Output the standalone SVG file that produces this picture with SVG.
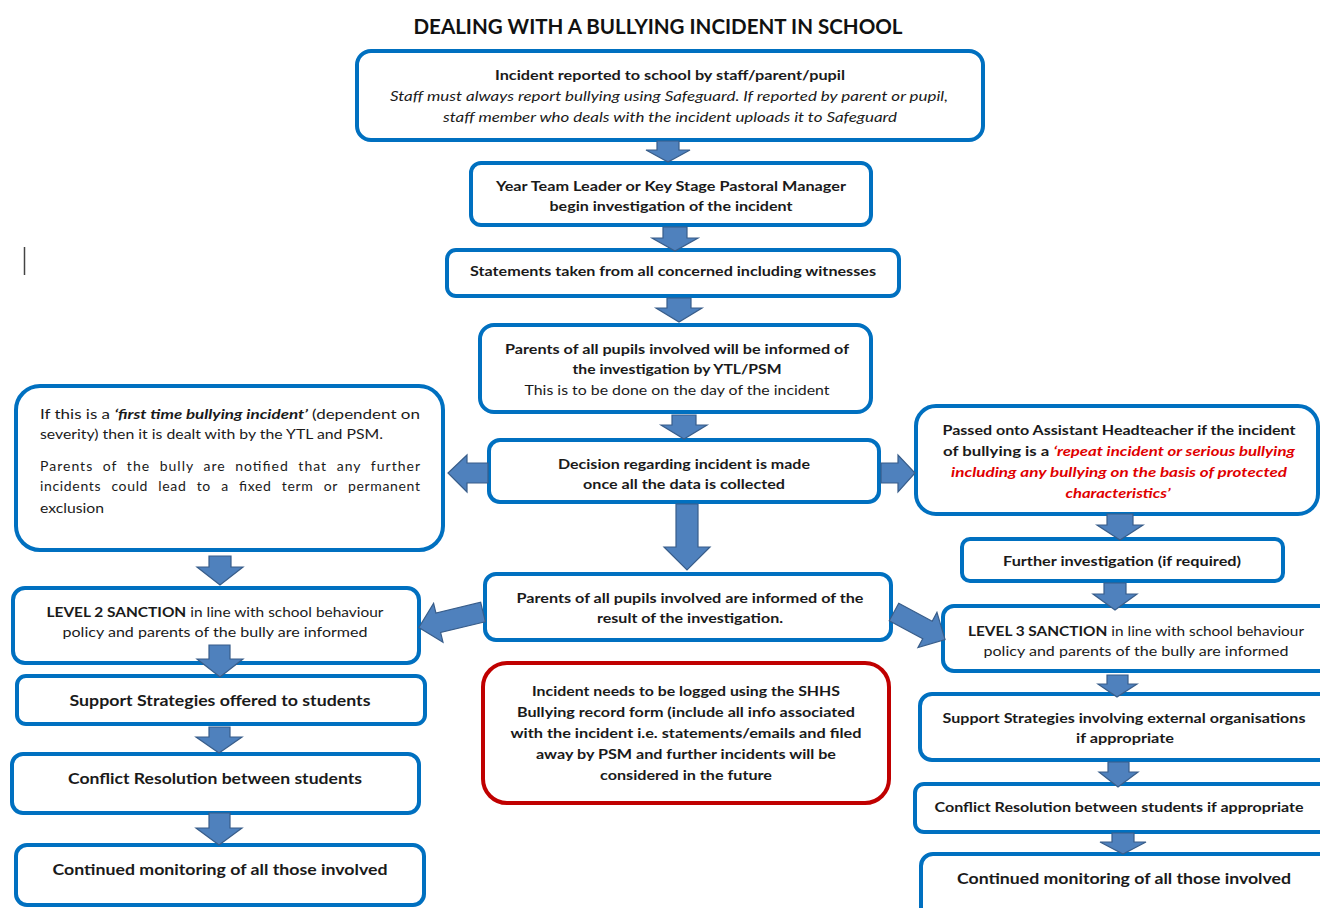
<svg xmlns="http://www.w3.org/2000/svg" width="1320" height="908" viewBox="0 0 1320 908">
<style>
.box{fill:#fff;stroke:#0070C0;stroke-width:4}
.rbox{fill:#fff;stroke:#C00000;stroke-width:4}
.arr{fill:#4F81BD;stroke:#385D8A;stroke-width:1.2;stroke-linejoin:miter}
text{font-family:Lato,"Liberation Sans",Arial,sans-serif;fill:#1a1a1a;font-size:14px}
.b{font-weight:bold}
.c{text-anchor:middle}
.i{font-style:italic}
.big{font-size:16px;font-weight:bold}
.red{fill:#E00000;font-weight:bold;font-style:italic}
.title{font-size:20px;font-weight:bold;text-anchor:middle;fill:#111}
.just{word-spacing:5px}
</style>
<rect width="1320" height="908" fill="#fff"/>
<text class="title" x="658" y="34" textLength="489" lengthAdjust="spacingAndGlyphs">DEALING WITH A BULLYING INCIDENT IN SCHOOL</text>
<line x1="24.5" y1="247" x2="24.5" y2="275" stroke="#444" stroke-width="1.5"/>

<g id="n1">
  <rect class="box" x="357" y="51" width="626" height="89" rx="14"/>
  <text class="b c" x="670" y="80" textLength="350" lengthAdjust="spacingAndGlyphs">Incident reported to school by staff/parent/pupil</text>
  <text class="i c" x="669" y="101" textLength="558" lengthAdjust="spacingAndGlyphs">Staff must always report bullying using Safeguard. If reported by parent or pupil,</text>
  <text class="i c" x="670" y="122" textLength="454" lengthAdjust="spacingAndGlyphs">staff member who deals with the incident uploads it to Safeguard</text>
</g>
<g id="n2">
  <rect class="box" x="471" y="163" width="400" height="62" rx="10"/>
  <text class="b c" x="671" y="191" textLength="350" lengthAdjust="spacingAndGlyphs">Year Team Leader or Key Stage Pastoral Manager</text>
  <text class="b c" x="671" y="211" textLength="243" lengthAdjust="spacingAndGlyphs">begin investigation of the incident</text>
</g>
<g id="n3">
  <rect class="box" x="447" y="250" width="452" height="46" rx="9"/>
  <text class="b c" x="673" y="276" textLength="406" lengthAdjust="spacingAndGlyphs">Statements taken from all concerned including witnesses</text>
</g>
<g id="n4">
  <rect class="box" x="480" y="325" width="391" height="87" rx="14"/>
  <text class="b c" x="677" y="354" textLength="344" lengthAdjust="spacingAndGlyphs">Parents of all pupils involved will be informed of</text>
  <text class="b c" x="677" y="374" textLength="209" lengthAdjust="spacingAndGlyphs">the investigation by YTL/PSM</text>
  <text class="c" x="677" y="395" textLength="305" lengthAdjust="spacingAndGlyphs">This is to be done on the day of the incident</text>
</g>
<g id="n5">
  <rect class="box" x="489" y="440" width="390" height="62" rx="11"/>
  <text class="b c" x="684" y="469" textLength="252" lengthAdjust="spacingAndGlyphs">Decision regarding incident is made</text>
  <text class="b c" x="684" y="489" textLength="202" lengthAdjust="spacingAndGlyphs">once all the data is collected</text>
</g>
<g id="n6">
  <rect class="box" x="16" y="386" width="427" height="164" rx="24"/>
  <text x="40" y="419" textLength="380" lengthAdjust="spacingAndGlyphs">If this is a <tspan class="b i">‘first time bullying incident’</tspan> (dependent on</text>
  <text x="40" y="439" textLength="343" lengthAdjust="spacingAndGlyphs">severity) then it is dealt with by the YTL and PSM.</text>
  <text class="just" x="40" y="471" textLength="380" lengthAdjust="spacing">Parents of the bully are notified that any further</text>
  <text class="just" x="40" y="491" textLength="380" lengthAdjust="spacing" style="word-spacing:6px">incidents could lead to a fixed term or permanent</text>
  <text x="40" y="513" textLength="64" lengthAdjust="spacingAndGlyphs">exclusion</text>
</g>
<g id="n7">
  <rect class="box" x="916" y="406" width="402" height="108" rx="20"/>
  <text class="b c" x="1119" y="435" textLength="353" lengthAdjust="spacingAndGlyphs">Passed onto Assistant Headteacher if the incident</text>
  <text class="b c" x="1119" y="456" textLength="352" lengthAdjust="spacingAndGlyphs">of bullying is a <tspan class="red">‘repeat incident or serious bullying</tspan></text>
  <text class="red c" x="1119" y="477" textLength="336" lengthAdjust="spacingAndGlyphs">including any bullying on the basis of protected</text>
  <text class="red c" x="1118" y="498" textLength="105" lengthAdjust="spacingAndGlyphs">characteristics’</text>
</g>
<g id="n8">
  <rect class="box" x="962" y="539" width="321" height="42" rx="8"/>
  <text class="b c" x="1122" y="566" textLength="238" lengthAdjust="spacingAndGlyphs">Further investigation (if required)</text>
</g>
<g id="n9">
  <rect class="box" x="485" y="574" width="406" height="66" rx="11"/>
  <text class="b c" x="690" y="603" textLength="347" lengthAdjust="spacingAndGlyphs">Parents of all pupils involved are informed of the</text>
  <text class="b c" x="690" y="623" textLength="186" lengthAdjust="spacingAndGlyphs">result of the investigation.</text>
</g>
<g id="n10">
  <rect class="box" x="13" y="588" width="406" height="75" rx="12"/>
  <text class="c" x="215" y="617" textLength="337" lengthAdjust="spacingAndGlyphs"><tspan class="b">LEVEL 2 SANCTION</tspan> in line with school behaviour</text>
  <text class="c" x="215" y="637" textLength="305" lengthAdjust="spacingAndGlyphs">policy and parents of the bully are informed</text>
</g>
<g id="n11">
  <rect class="box" x="17" y="676" width="408" height="48" rx="9"/>
  <text class="big c" x="220" y="706" textLength="301" lengthAdjust="spacingAndGlyphs">Support Strategies offered to students</text>
</g>
<g id="n12">
  <rect class="box" x="12" y="754" width="407" height="59" rx="11"/>
  <text class="big c" x="215" y="784" textLength="294" lengthAdjust="spacingAndGlyphs">Conflict Resolution between students</text>
</g>
<g id="n13">
  <rect class="box" x="16" y="845" width="408" height="60" rx="11"/>
  <text class="big c" x="220" y="875" textLength="335" lengthAdjust="spacingAndGlyphs">Continued monitoring of all those involved</text>
</g>
<g id="n14">
  <rect class="box" x="943" y="606" width="392" height="65" rx="11"/>
  <text class="c" x="1136" y="636" textLength="336" lengthAdjust="spacingAndGlyphs"><tspan class="b">LEVEL 3 SANCTION</tspan> in line with school behaviour</text>
  <text class="c" x="1136" y="656" textLength="305" lengthAdjust="spacingAndGlyphs">policy and parents of the bully are informed</text>
</g>
<g id="n15">
  <rect class="box" x="920" y="694" width="415" height="66" rx="12"/>
  <text class="b c" x="1124" y="723" textLength="363" lengthAdjust="spacingAndGlyphs">Support Strategies involving external organisations</text>
  <text class="b c" x="1125" y="743" textLength="98" lengthAdjust="spacingAndGlyphs">if appropriate</text>
</g>
<g id="n16">
  <rect class="box" x="915" y="784" width="420" height="48" rx="9"/>
  <text class="b c" x="1119" y="812" textLength="369" lengthAdjust="spacingAndGlyphs">Conflict Resolution between students if appropriate</text>
</g>
<g id="n17">
  <rect class="box" x="921" y="854" width="414" height="70" rx="12"/>
  <text class="big c" x="1124" y="884" textLength="334" lengthAdjust="spacingAndGlyphs">Continued monitoring of all those involved</text>
</g>
<g id="n18">
  <rect class="rbox" x="483" y="663" width="406" height="140" rx="24"/>
  <text class="b c" x="686" y="696" textLength="308" lengthAdjust="spacingAndGlyphs">Incident needs to be logged using the SHHS</text>
  <text class="b c" x="686" y="717" textLength="338" lengthAdjust="spacingAndGlyphs">Bullying record form (include all info associated</text>
  <text class="b c" x="686" y="738" textLength="351" lengthAdjust="spacingAndGlyphs">with the incident i.e. statements/emails and filed</text>
  <text class="b c" x="686" y="759" textLength="300" lengthAdjust="spacingAndGlyphs">away by PSM and further incidents will be</text>
  <text class="b c" x="686" y="780" textLength="172" lengthAdjust="spacingAndGlyphs">considered in the future</text>
</g>

<g id="connectors">
  <path class="arr" d="M657,141 H679 V150 H690 L668,162 L646,150 H657 Z"/>
  <path class="arr" d="M663,227 H687 V238 H698 L675,251 L652,238 H663 Z"/>
  <path class="arr" d="M667,298 H691 V308 H702 L679,322 L656,308 H667 Z"/>
  <path class="arr" d="M672,415 H696 V425 H707 L684,439 L661,425 H672 Z"/>
  <path class="arr" d="M676,504 H698 V547 H710 L687,570 L664,547 H676 Z"/>
  <path class="arr" d="M488,463 H467 V455 L448,473 L467,492 V483 H488 Z"/>
  <path class="arr" d="M881,463 H898 V455 L915,473 L898,492 V483 H881 Z"/>
  <path class="arr" d="M209,556 H231 V567 H243 L220,585 L197,567 H209 Z"/>
  <path class="arr" d="M1107,514 H1133 V525 H1143 L1120,540 L1097,525 H1107 Z"/>
  <path class="arr" d="M1104,583 H1126 V594 H1137 L1115,610 L1093,594 H1104 Z"/>
  <path class="arr" d="M209,645 H230 V659 H243 L220,677 L197,659 H209 Z"/>
  <path class="arr" d="M209,727 H230 V737 H242 L219,753 L196,737 H209 Z"/>
  <path class="arr" d="M209,813 H230 V828 H242 L219,845 L196,828 H209 Z"/>
  <path class="arr" d="M1107,675 H1128 V684 H1137 L1117,697 L1098,684 H1107 Z"/>
  <path class="arr" d="M1108,762 H1129 V772 H1138 L1118,787 L1099,772 H1108 Z"/>
  <path class="arr" d="M1112,833 H1134 V842 H1146 L1123,854 L1100,842 H1112 Z"/>
  <path class="arr" transform="translate(483,612) rotate(166.4)" d="M0,-10 H46 V-20 L66,0 L46,20 V10 H0 Z"/>
  <path class="arr" transform="translate(894,612) rotate(28.3)" d="M0,-10 H38 V-20 L58,0 L38,20 V10 H0 Z"/>
</g>
</svg>
